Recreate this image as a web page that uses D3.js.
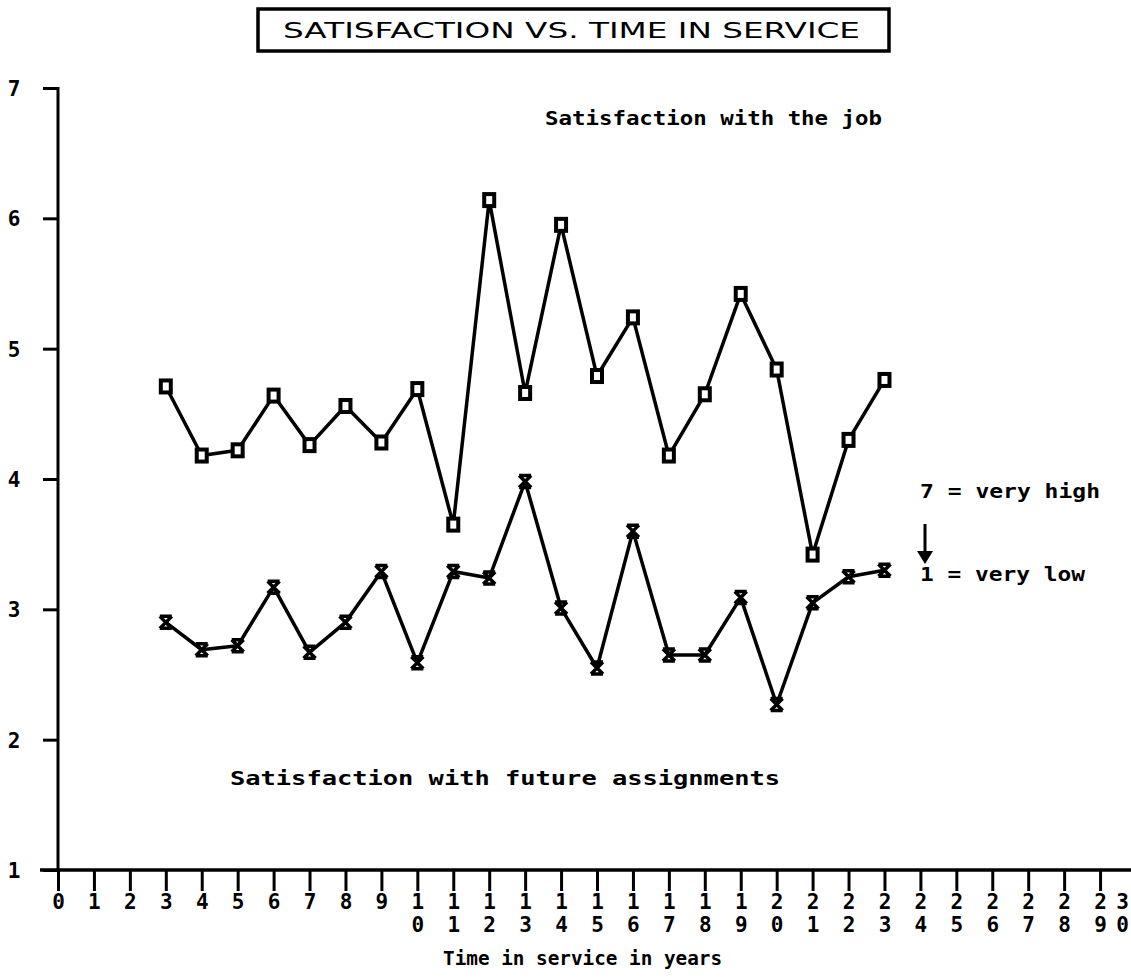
<!DOCTYPE html>
<html>
<head>
<meta charset="utf-8">
<script src="https://cdn.jsdelivr.net/npm/d3@7"></script>
<style>
  html, body { margin: 0; padding: 0; background: #fff; }
  svg { display: block; }
  text { font-family: "DejaVu Sans Mono", "Liberation Mono", monospace; font-weight: bold; fill: #000; }
</style>
</head>
<body>
<svg id="chart" width="1131" height="978"></svg>
<script>
// ---- Data ----
const years = [3,4,5,6,7,8,9,10,11,12,13,14,15,16,17,18,19,20,21,22,23];
const jobSatisfaction = [4.71,4.18,4.22,4.64,4.26,4.56,4.28,4.69,3.65,6.14,4.66,5.95,4.79,5.24,4.18,4.65,5.42,4.84,3.42,4.30,4.76];
const futureSatisfaction = [2.90,2.69,2.72,3.17,2.67,2.90,3.29,2.59,3.29,3.24,3.98,3.01,2.55,3.60,2.65,2.65,3.09,2.27,3.05,3.25,3.30];
const xTicks = d3.range(0, 31);
const yTicks = [1,2,3,4,5,6,7];
const titleText = "SATISFACTION VS. TIME IN SERVICE";
const jobLabel = "Satisfaction with the job";
const futureLabel = "Satisfaction with future assignments";
const scaleHigh = "7 = very high";
const scaleLow = "1 = very low";
const xTitle = "Time in service in years";

// ---- Scales ----
const svg = d3.select("#chart");
const x = d3.scaleLinear().domain([0, 30]).range([58, 1136]);
const y = d3.scaleLinear().domain([1, 7]).range([870, 88]);

// ---- Title box ----
svg.append("rect").attr("x", 258).attr("y", 9).attr("width", 631).attr("height", 42)
  .attr("fill", "none").attr("stroke", "#000").attr("stroke-width", 3.5);
svg.append("text").attr("x", 283).attr("y", 38).attr("font-size", 21)
  .style("font-family", "'DejaVu Sans', sans-serif").style("font-weight", "normal")
  .attr("textLength", 577).attr("lengthAdjust", "spacingAndGlyphs").text(titleText);

// ---- Axes ----
const yAxis = d3.axisLeft(y).tickValues(yTicks).tickSize(15).tickFormat(d3.format("d"));
const gy = svg.append("g").attr("transform", `translate(${x(0)},0)`).call(yAxis);
gy.select(".domain").remove();
gy.selectAll(".tick line").attr("stroke", "#000").attr("stroke-width", 3);
gy.selectAll(".tick text").attr("x", -44).attr("text-anchor", "middle").attr("dy", "0.35em")
  .attr("font-size", 21).style("font-family", "'DejaVu Sans Mono', monospace").style("font-weight", "bold");
svg.append("line").attr("x1", x(0)).attr("x2", x(0)).attr("y1", y(7) - 1).attr("y2", y(1))
  .attr("stroke", "#000").attr("stroke-width", 3);

const xAxis = d3.axisBottom(x).tickValues(xTicks).tickSize(21).tickFormat("");
const gx = svg.append("g").attr("transform", `translate(0,${y(1)})`).call(xAxis);
gx.select(".domain").remove();
gx.selectAll(".tick line").attr("stroke", "#000").attr("stroke-width", 3);
gx.selectAll(".tick").each(function(d) {
  const s = String(d).split("");
  const dx = d === 30 ? -14 : 0;
  const t = d3.select(this).append("text").attr("text-anchor", "middle").attr("font-size", 21)
    .style("font-family", "'DejaVu Sans Mono', monospace").style("font-weight", "bold");
  s.forEach((c, i) => {
    t.append("tspan").attr("x", dx).attr("y", 39 + i * 23).text(c);
  });
});
svg.append("line").attr("x1", 40).attr("x2", 1131).attr("y1", y(1)).attr("y2", y(1))
  .attr("stroke", "#000").attr("stroke-width", 3.5);

// ---- Lines ----
const jobData = years.map((yr, i) => ({ x: yr, v: jobSatisfaction[i] }));
const futData = years.map((yr, i) => ({ x: yr, v: futureSatisfaction[i] }));
const line = d3.line().x(d => x(d.x)).y(d => y(d.v));

svg.append("path").datum(jobData).attr("d", line).attr("fill", "none")
  .attr("stroke", "#000").attr("stroke-width", 3.5).attr("stroke-linejoin", "round");
svg.append("path").datum(futData).attr("d", line).attr("fill", "none")
  .attr("stroke", "#000").attr("stroke-width", 3.5).attr("stroke-linejoin", "round");

// square markers
svg.append("g").selectAll("rect").data(jobData).join("rect")
  .attr("x", d => x(d.x) - 5).attr("y", d => y(d.v) - 6)
  .attr("width", 10).attr("height", 12)
  .attr("fill", "#fff").attr("stroke", "#000").attr("stroke-width", 4);

// cross markers (hourglass-like X)
const cs = 6;
svg.append("g").selectAll("path").data(futData).join("path")
  .attr("d", d => {
    const cx = x(d.x), cy = y(d.v);
    return `M${cx-cs},${cy-cs}L${cx+cs},${cy+cs}M${cx+cs},${cy-cs}L${cx-cs},${cy+cs}` +
           `M${cx-cs},${cy-cs}L${cx+cs},${cy-cs}M${cx-cs},${cy+cs}L${cx+cs},${cy+cs}`;
  })
  .attr("fill", "none").attr("stroke", "#000").attr("stroke-width", 3.5);

// ---- Annotations ----
function label(txt, x0, x1, yc, fs) {
  svg.append("text").attr("x", x0).attr("y", yc).attr("dy", "0.35em").attr("font-size", fs)
    .attr("textLength", x1 - x0).attr("lengthAdjust", "spacingAndGlyphs").text(txt);
}
label(jobLabel, 545, 882, 118, 20);
label(futureLabel, 230, 780, 778, 20);
label(scaleHigh, 920, 1100, 491, 20);
label(scaleLow, 920, 1085, 574, 20);
label(xTitle, 443, 722, 958, 20);

// arrow
svg.append("line").attr("x1", 925).attr("x2", 925).attr("y1", 524).attr("y2", 556)
  .attr("stroke", "#000").attr("stroke-width", 3);
svg.append("path").attr("d", "M917,551L933,551L925,564Z").attr("fill", "#000");
</script>
</body>
</html>
